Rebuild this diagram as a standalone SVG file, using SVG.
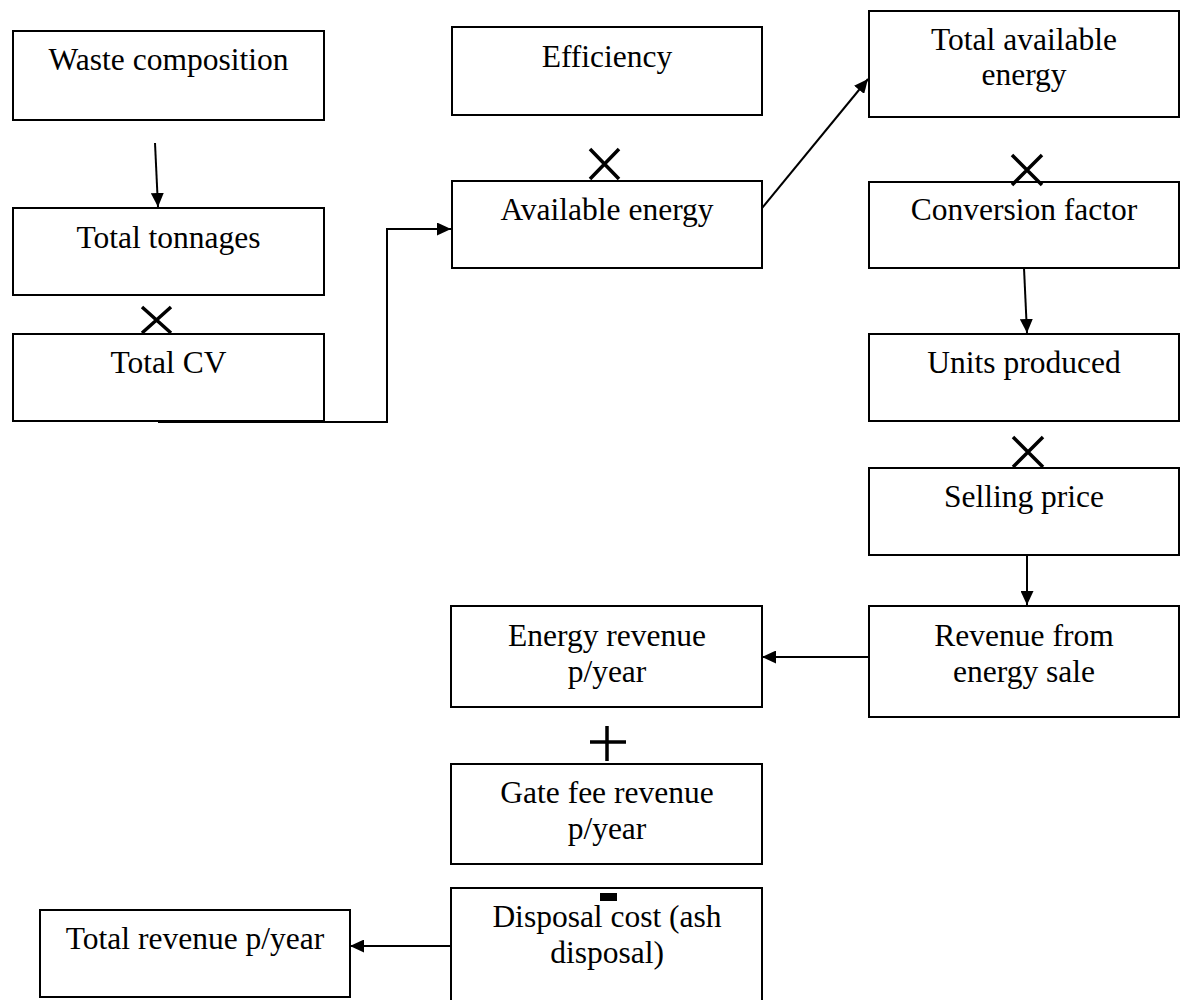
<svg xmlns="http://www.w3.org/2000/svg" width="1180" height="1000" viewBox="0 0 1180 1000">
<style>
  .box { fill: #ffffff; stroke: #000000; stroke-width: 2; }
  .lbl { font-family: "Liberation Serif", "Times New Roman", serif; font-size: 31.5px; fill: #000000; text-anchor: middle; }
  .conn { fill: none; stroke: #000000; stroke-width: 2; }
  .op { fill: none; stroke: #000000; stroke-width: 3.5; }
</style>
<defs>
  <marker id="ah" markerUnits="userSpaceOnUse" markerWidth="15" markerHeight="13" refX="14" refY="6.5" orient="auto">
    <path d="M0,0 L14,6.5 L0,13 Z" fill="#000000"/>
  </marker>
</defs>
<rect width="1180" height="1000" fill="#ffffff"/>

<g id="waste-composition"><rect class="box" x="13" y="31" width="311" height="89"/><text class="lbl" x="168.5" y="70">Waste composition</text></g>
<g id="total-tonnages"><rect class="box" x="13" y="208" width="311" height="87"/><text class="lbl" x="168.5" y="248">Total tonnages</text></g>
<g id="total-cv"><rect class="box" x="13" y="334" width="311" height="87"/><text class="lbl" x="168.5" y="373">Total CV</text></g>
<g id="efficiency"><rect class="box" x="452" y="27" width="310" height="88"/><text class="lbl" x="607" y="67">Efficiency</text></g>
<g id="available-energy"><rect class="box" x="452" y="181" width="310" height="87"/><text class="lbl" x="607" y="220">Available energy</text></g>
<g id="total-available-energy"><rect class="box" x="869" y="11" width="310" height="106"/><text class="lbl" x="1024" y="50">Total available</text><text class="lbl" x="1024" y="85">energy</text></g>
<g id="conversion-factor"><rect class="box" x="869" y="182" width="310" height="86"/><text class="lbl" x="1024" y="220">Conversion factor</text></g>
<g id="units-produced"><rect class="box" x="869" y="334" width="310" height="87"/><text class="lbl" x="1024" y="373">Units produced</text></g>
<g id="selling-price"><rect class="box" x="869" y="468" width="310" height="87"/><text class="lbl" x="1024" y="507">Selling price</text></g>
<g id="revenue-energy-sale"><rect class="box" x="869" y="606" width="310" height="111"/><text class="lbl" x="1024" y="646">Revenue from</text><text class="lbl" x="1024" y="682">energy sale</text></g>
<g id="energy-revenue"><rect class="box" x="451" y="606" width="311" height="101"/><text class="lbl" x="607" y="646">Energy revenue</text><text class="lbl" x="607" y="682">p/year</text></g>
<g id="gate-fee-revenue"><rect class="box" x="451" y="764" width="311" height="100"/><text class="lbl" x="607" y="803">Gate fee revenue</text><text class="lbl" x="607" y="839">p/year</text></g>
<g id="disposal-cost"><rect class="box" x="451" y="888" width="311" height="116"/><text class="lbl" x="607" y="927">Disposal cost (ash</text><text class="lbl" x="607" y="963">disposal)</text></g>
<g id="total-revenue"><rect class="box" x="40" y="910" width="310" height="87"/><text class="lbl" x="195" y="949">Total revenue p/year</text></g>

<g id="operators">
  <path class="op" d="M142,307 L171,333 M171,307 L142,333"/>
  <path class="op" d="M590,149 L619,179 M619,149 L590,179"/>
  <path class="op" d="M1012,155 L1042,185 M1042,155 L1012,185"/>
  <path class="op" d="M1013,437 L1043,467 M1043,437 L1013,467"/>
  <path class="op" d="M607,726 L607,761 M590,742 L626,742"/>
  <rect x="600" y="893" width="17" height="8" fill="#000000"/>
</g>

<g id="connectors">
  <path class="conn" d="M155,143 L158,207" marker-end="url(#ah)"/>
  <path class="conn" d="M158,422 L387,422 L387,229 L451,229" marker-end="url(#ah)"/>
  <path class="conn" d="M762,208 L868,79" marker-end="url(#ah)"/>
  <path class="conn" d="M1024,268 L1027,333" marker-end="url(#ah)"/>
  <path class="conn" d="M1027,555 L1027,605" marker-end="url(#ah)"/>
  <path class="conn" d="M869,657 L762,657" marker-end="url(#ah)"/>
  <path class="conn" d="M451,946 L350,946" marker-end="url(#ah)"/>
</g>
</svg>
